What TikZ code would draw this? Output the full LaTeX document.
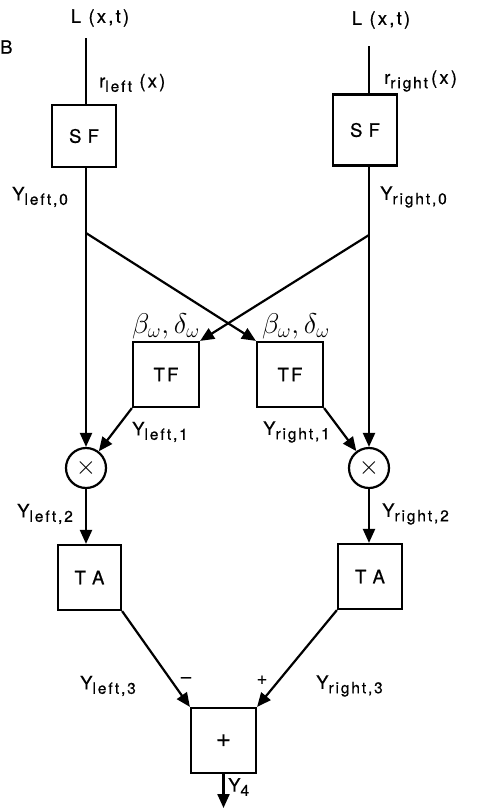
\documentclass[tikz,border=0pt]{standalone}
\usepackage{fontspec}
\setmainfont{TeX Gyre Heros}
\newfontfamily\labfont[LetterSpace=12,FakeBold=0.6]{TeX Gyre Heros}
\usetikzlibrary{arrows.meta}
\newcommand\mysub[1]{\raisebox{-0.45ex}{\fontsize{15.5}{15.5}\selectfont #1}}
\tikzset{
  blk/.style={draw, line width=2.2pt, minimum width=64pt, minimum height=64pt, inner sep=0pt, font=\labfont\fontsize{18.5}{20}\selectfont},
  mul/.style={draw, circle, line width=2.2pt, minimum size=40pt, inner sep=0pt},
  wire/.style={line width=2.2pt},
  arr/.style={line width=2.2pt, -{Triangle[length=14pt,width=12pt]}},
  lbl/.style={inner sep=0pt, font=\labfont\fontsize{18.5}{20}\selectfont},
}
\begin{document}
\begin{tikzpicture}[x=1pt,y=-1pt]
\useasboundingbox (0,0) rectangle (481,809);
% blocks
\node[blk, minimum height=62pt] (sfl) at (84,136) {S\,\,F};
\node[blk, minimum height=71pt] (sfr) at (365,130) {S\,\,F};
\node[blk, minimum width=66pt, minimum height=65pt] (tfl) at (166,374.5) {TF};
\node[blk, minimum width=66pt, minimum height=65pt] (tfr) at (290,374.5) {TF};
\node[mul] (ml) at (86,468) {\scalebox{2.6}{$\times$}};
\node[mul] (mr) at (369,468) {\scalebox{2.6}{$\times$}};
\node[blk, minimum width=63pt, minimum height=65pt] (tal) at (89.5,577.5) {T\,\,A};
\node[blk, minimum width=64pt, minimum height=65pt] (tar) at (370,576.5) {T\,\,A};
\node[blk, minimum width=65pt, minimum height=65pt] (sum) at (223.5,740.5) {\fontsize{26}{26}\selectfont +};
% coordinates
\coordinate (inl) at (86,38);
\coordinate (inr) at (369,46);
\coordinate (jl) at (86,233);
\coordinate (jr) at (369,235);
\coordinate (out) at (223.5,808);
% connectors
\draw[wire] (inl) -- (inl |- sfl.north);
\draw[wire] (inr) -- (inr |- sfr.north);
\draw[arr] (inl |- sfl.south) -- (ml);
\draw[arr] (inr |- sfr.south) -- (mr);
\draw[arr] (jl) -- (tfr.north west);
\draw[arr] (jr) -- (tfl.north east);
\draw[arr] (tfl.south west) -- (ml);
\draw[arr] (tfr.south east) -- (mr);
\draw[arr] (ml) -- (ml |- tal.north);
\draw[arr] (mr) -- (mr |- tar.north);
\draw[arr] (tal.south east) -- (sum.north west);
\draw[arr] (tar.south west) -- (sum.north east);
\draw[arr] (sum) -- (out);
% labels
\node[lbl, anchor=west] (B) at (0,47) {B};
\node[lbl] (lt1) at (100,18) {L (x,t)};
\node[lbl] (lt2) at (381,20) {L (x,t)};
\node[lbl, anchor=west] (rl) at (99,83) {r\mysub{left} (x)};
\node[lbl, anchor=west] (rr) at (384,81) {r\mysub{right}\,(x)};
\node[lbl, anchor=west] (yl0) at (12,197) {Y\mysub{left,0}};
\node[lbl, anchor=west] (yr0) at (380,197) {Y\mysub{right,0}};
\node[lbl] (bl) at (166,326) {\scalebox{1.65}{$\beta_\omega,\delta_\omega$}};
\node[lbl] (br) at (296,326) {\scalebox{1.65}{$\beta_\omega,\delta_\omega$}};
\node[lbl, anchor=west] (yl1) at (132,432) {Y\mysub{left,1}};
\node[lbl, anchor=west] (yr1) at (263,432) {Y\mysub{right,1}};
\node[lbl, anchor=west] (yl2) at (17,514) {Y\mysub{left,2}};
\node[lbl, anchor=west] (yr2) at (382,514) {Y\mysub{right,2}};
\node[lbl, anchor=west] (yl3) at (80,686) {Y\mysub{left,3}};
\node[lbl, anchor=west] (yr3) at (316,686) {Y\mysub{right,3}};
\node[lbl] (mi) at (186,680) {\textendash};
\node[lbl] (pl) at (262,680) {+};
\node[lbl, anchor=west] (y4) at (228,787) {Y\mysub{4}};
\end{tikzpicture}
\end{document}
